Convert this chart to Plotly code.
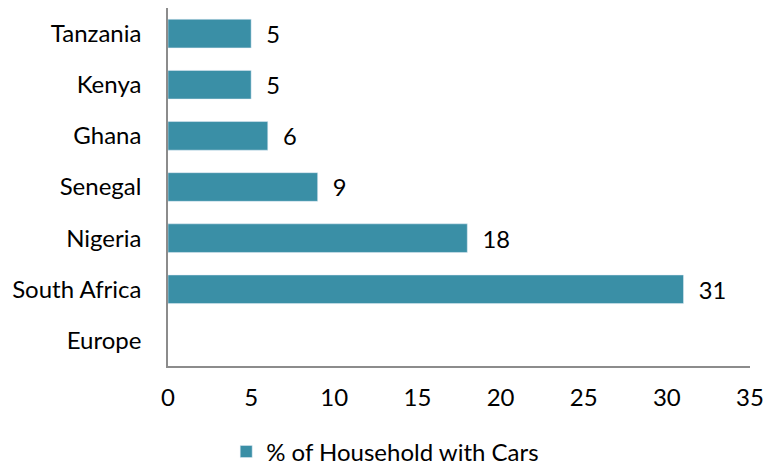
import plotly.graph_objects as go

countries = ["Tanzania", "Kenya", "Ghana", "Senegal", "Nigeria", "South Africa", "Europe"]
car_share = [5, 5, 6, 9, 18, 31, None]
x_ticks = [0, 5, 10, 15, 20, 25, 30, 35]

font_family = "Lato, 'Open Sans', sans-serif"
bar_color = "#3A8FA6"
axis_color = "#8C8C8C"

fig = go.Figure()
fig.add_trace(go.Bar(
    y=countries,
    x=car_share,
    orientation="h",
    name="% of Household with Cars",
    marker=dict(color=bar_color),
    # leading spaces push the value labels away from the bar end
    text=["  " + str(v) if v is not None else "" for v in car_share],
    textposition="outside",
    textfont=dict(size=24, color="#000000", family=font_family),
    cliponaxis=False,
))

fig.update_layout(
    width=765,
    height=465,
    paper_bgcolor="white",
    plot_bgcolor="white",
    margin=dict(l=168, r=15, t=8, b=99, autoexpand=False),
    bargap=0.44,
    font=dict(family=font_family, size=24, color="#000000"),
    xaxis=dict(
        range=[0, 35],
        tickvals=x_ticks,
        showgrid=False,
        zeroline=False,
        showline=True,
        linecolor=axis_color,
        linewidth=1.5,
        ticks="",
        ticklabelstandoff=9,
        tickfont=dict(size=24),
        automargin=False,
    ),
    yaxis=dict(
        autorange="reversed",
        showgrid=False,
        zeroline=False,
        showline=True,
        linecolor=axis_color,
        linewidth=1.5,
        ticks="",
        ticklabelstandoff=20,
        tickfont=dict(size=24),
        automargin=False,
    ),
    showlegend=True,
    legend=dict(
        orientation="h",
        x=0.1,
        xanchor="left",
        y=-0.24,
        yanchor="middle",
        font=dict(size=24),
        itemwidth=30,
    ),
)

# drop the default body margin so the figure fills the window exactly
fig.write_html(
    "out.html",
    config={"displayModeBar": False},
    post_script="document.body.style.margin='0';document.body.style.overflow='hidden';",
)
